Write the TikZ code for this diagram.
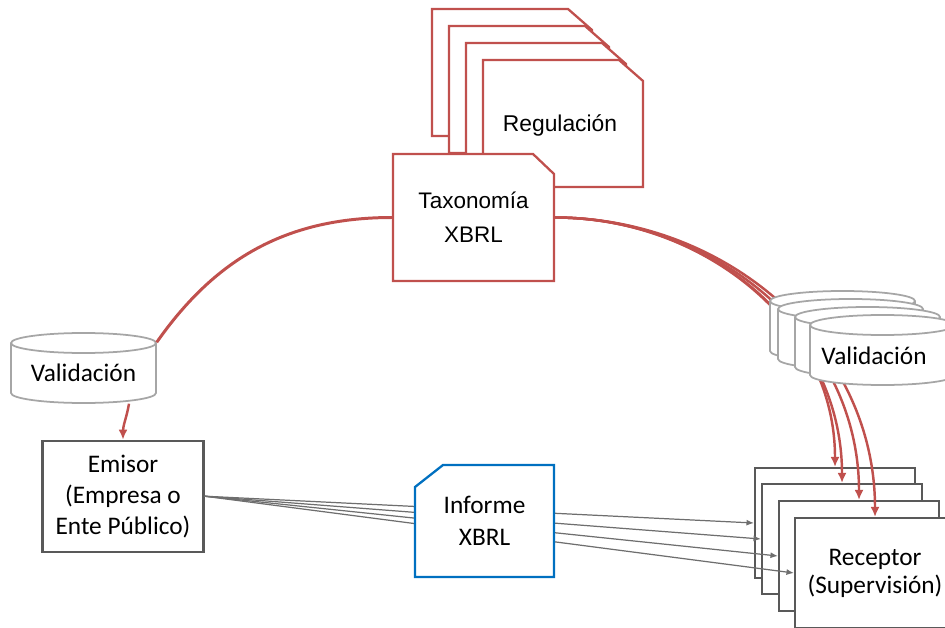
\documentclass[tikz,border=0pt]{standalone}
\usepackage{fontspec}
\setmainfont{Carlito}
\newfontfamily\arialfont{Liberation Sans}
\usetikzlibrary{arrows.meta}

\definecolor{xred}{HTML}{C0504D}
\definecolor{xblue}{HTML}{0070C0}
\definecolor{boxgray}{HTML}{595959}
\definecolor{cylgray}{HTML}{A6A6A6}
\definecolor{linegray}{HTML}{6E6E6E}

\begin{document}
\begin{tikzpicture}[
  sheet/.style={fill=white, draw=xred, line width=0.65pt},
  cyl/.style={fill=white, draw=cylgray, line width=0.5pt},
  textbox/.style={rectangle, inner sep=0pt, align=center,
    font=\fontsize{7.2}{8.8}\selectfont},
  party/.style={textbox, draw=boxgray, line width=0.6pt, fill=white},
  redline/.style={draw=xred, line width=0.7pt},
  redarrow/.style={redline, -{Latex[length=1mm,width=0.9mm]}},
  grayarrow/.style={draw=linegray, line width=0.35pt,
    -{Latex[length=0.75mm,width=0.6mm]}},
]
\useasboundingbox (0,0) rectangle (9.45,-6.27);

% regulation pile, corner cut off
\filldraw [sheet] (4.32,-1.36) -- ++(0,1.27) -- ++(1.36,0) -- ++(0.24,-0.21) -- ++(0,-1.06) -- cycle;
\filldraw [sheet] (4.49,-1.53) -- ++(0,1.27) -- ++(1.36,0) -- ++(0.24,-0.21) -- ++(0,-1.06) -- cycle;
\filldraw [sheet] (4.66,-1.70) -- ++(0,1.27) -- ++(1.36,0) -- ++(0.24,-0.21) -- ++(0,-1.06) -- cycle;
\filldraw [sheet] (4.83,-1.87) -- ++(0,1.27) -- ++(1.36,0) -- ++(0.24,-0.21) -- ++(0,-1.06) -- cycle;
\node [textbox, font=\arialfont\fontsize{6.5}{8}\selectfont] (reg) at (5.60,-1.25) {Regulación};

% taxonomy sheet
\filldraw [sheet] (3.93,-2.81) -- ++(0,1.27) -- ++(1.40,0) -- ++(0.21,-0.20) -- ++(0,-1.07) -- cycle;
\node [textbox, minimum width=1.61cm, minimum height=1.27cm,
  font=\arialfont\fontsize{6.4}{9.6}\selectfont] (tax) at (4.735,-2.175) {Taxonomía\\XBRL};

% issuer side
\filldraw [cyl] (0.11,-3.43) -- ++(0,-0.50) arc (180:360:0.725 and 0.10) -- ++(0,0.50) arc (0:180:0.725 and 0.10) -- cycle;
\draw [cyl] (0.11,-3.43) arc (180:360:0.725 and 0.10);
\node [textbox, minimum width=1.45cm, minimum height=0.6cm] (valL) at (0.835,-3.73) {Validación};
\node [party, minimum width=1.61cm, minimum height=1.11cm] (emisor) at (1.23,-4.962) {Emisor\\(Empresa o\\Ente Público)};

\draw [redline, line width=0.85pt] (tax.west) to[out=180,in=55] (valL.north east);
\draw [redarrow] (valL.-34) to[out=-100,in=90] (emisor.north);

% receivers
\node [party, minimum width=1.6cm, minimum height=1.1cm] (rec1) at (8.35,-5.23) {};
\node [party, minimum width=1.6cm, minimum height=1.1cm] (rec2) at (8.42,-5.39) {};
\node [party, minimum width=1.6cm, minimum height=1.1cm] (rec3) at (8.59,-5.56) {};
\node [party, minimum width=1.6cm, minimum height=1.1cm, font=\fontsize{7.2}{8}\selectfont] (rec4) at (8.75,-5.73) {Receptor\\(Supervisión)};

% report sent to every receiver
\draw [grayarrow] (emisor.east) -- (rec1.west);
\draw [grayarrow] (emisor.east) -- (rec2.west);
\draw [grayarrow] (emisor.east) -- (rec3.west);
\draw [grayarrow] (emisor.east) -- (rec4.west);

\filldraw [fill=white, draw=xblue, line width=0.65pt] (5.54,-5.77) -- ++(0,1.12) -- ++(-1.11,0) -- ++(-0.28,-0.22) -- ++(0,-0.90) -- cycle;
\node [textbox, minimum width=1.39cm, minimum height=1.12cm,
  font=\fontsize{7.2}{9}\selectfont] (informe) at (4.845,-5.21) {Informe\\XBRL};

% taxonomy reaching the receivers through validation
\draw [redarrow] (tax.east) to[out=0,in=90] (rec1.north);
\draw [redarrow] (tax.east) to[out=0,in=90] (rec2.north);
\draw [redarrow] (tax.east) to[out=0,in=90] (rec3.north);
\draw [redarrow] (tax.east) to[out=0,in=90] (rec4.north);

\filldraw [cyl] (7.70,-3.01) -- ++(0,-0.50) arc (180:360:0.725 and 0.10) -- ++(0,0.50) arc (0:180:0.725 and 0.10) -- cycle;
\draw [cyl] (7.70,-3.01) arc (180:360:0.725 and 0.10);
\filldraw [cyl] (7.78,-3.09) -- ++(0,-0.50) arc (180:360:0.725 and 0.10) -- ++(0,0.50) arc (0:180:0.725 and 0.10) -- cycle;
\draw [cyl] (7.78,-3.09) arc (180:360:0.725 and 0.10);
\filldraw [cyl] (7.95,-3.17) -- ++(0,-0.50) arc (180:360:0.725 and 0.10) -- ++(0,0.50) arc (0:180:0.725 and 0.10) -- cycle;
\draw [cyl] (7.95,-3.17) arc (180:360:0.725 and 0.10);
\filldraw [cyl] (8.10,-3.25) -- ++(0,-0.50) arc (180:360:0.725 and 0.10) -- ++(0,0.50) arc (0:180:0.725 and 0.10) -- cycle;
\draw [cyl] (8.10,-3.25) arc (180:360:0.725 and 0.10);
\node [textbox, minimum width=1.45cm, minimum height=0.6cm] (valR) at (8.74,-3.56) {Validación};
\end{tikzpicture}
\end{document}
